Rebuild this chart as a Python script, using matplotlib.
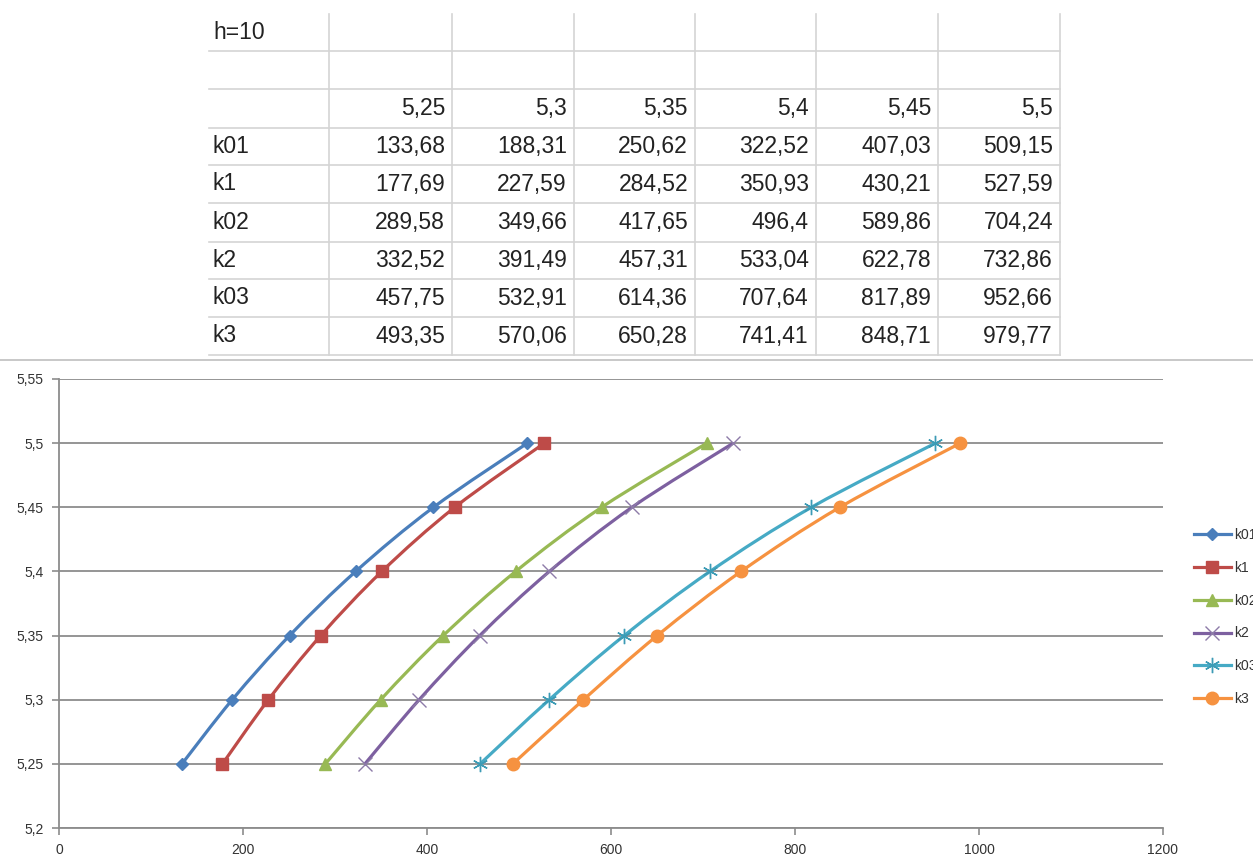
import matplotlib
matplotlib.use("Agg")
import matplotlib.pyplot as plt
from matplotlib.lines import Line2D
from matplotlib.path import Path
from matplotlib.patches import PathPatch
from matplotlib.ticker import FuncFormatter, MultipleLocator

# sheet data: h=10, six speeds against the k columns
h_label = "h=10"
speeds = [5.25, 5.3, 5.35, 5.4, 5.45, 5.5]
series_names = ["k01", "k1", "k02", "k2", "k03", "k3"]
k01 = [133.68, 188.31, 250.62, 322.52, 407.03, 509.15]
k1 = [177.69, 227.59, 284.52, 350.93, 430.21, 527.59]
k02 = [289.58, 349.66, 417.65, 496.4, 589.86, 704.24]
k2 = [332.52, 391.49, 457.31, 533.04, 622.78, 732.86]
k03 = [457.75, 532.91, 614.36, 707.64, 817.89, 952.66]
k3 = [493.35, 570.06, 650.28, 741.41, 848.71, 979.77]
series_values = [k01, k1, k02, k2, k03, k3]

line_colors = ["#4A7EBB", "#BE4B48", "#98B954", "#7D60A0", "#46AAC5", "#F69240"]
marker_styles = [
    dict(marker="D", ms=6.5),
    dict(marker="s", ms=8.5),
    dict(marker="^", ms=9),
    dict(marker="x", ms=10, mew=1.0, mec="#8D7BA8"),
    dict(marker=(6, 2, 0), ms=11, mew=1.0, mec="#3C9BB5"),
    dict(marker="o", ms=9),
]

W, H = 1253, 856
plt.rcParams["font.family"] = ["Liberation Sans", "DejaVu Sans"]


def comma(v):
    return f"{v:g}".replace(".", ",")


def fx(px):
    return px / W


def fy(py):
    return 1 - py / H


def smooth_path(xs, ys):
    # excel-like smoothed line: catmull-rom segments as cubic beziers
    pts = list(zip(xs, ys))
    n = len(pts)
    verts = [pts[0]]
    codes = [Path.MOVETO]
    for i in range(n - 1):
        p0 = pts[i - 1] if i > 0 else pts[i]
        p1 = pts[i]
        p2 = pts[i + 1]
        p3 = pts[i + 2] if i + 2 < n else pts[i + 1]
        c1 = (p1[0] + (p2[0] - p0[0]) / 6, p1[1] + (p2[1] - p0[1]) / 6)
        c2 = (p2[0] - (p3[0] - p1[0]) / 6, p2[1] - (p3[1] - p1[1]) / 6)
        verts += [c1, c2, p2]
        codes += [Path.CURVE4] * 3
    return Path(verts, codes)


fig = plt.figure(figsize=(W / 100, H / 100), dpi=100)

# ---- worksheet table ----
col_edges = [209, 329, 452, 574, 695, 816, 938, 1060]
row_edges = [14, 51, 89, 128, 165, 203, 242, 279, 317, 355]
grid_c = "#D4D4D4"
text_c = "#222222"
for y in row_edges[1:]:
    fig.add_artist(Line2D([fx(col_edges[0]), fx(col_edges[-1])], [fy(y), fy(y)],
                          color=grid_c, lw=1.2))
for x in col_edges[1:]:
    fig.add_artist(Line2D([fx(x), fx(x)], [fy(row_edges[0]), fy(row_edges[-1])],
                          color=grid_c, lw=1.2))

def row_mid(r):
    return fy((row_edges[r] + row_edges[r + 1]) / 2)

fig.text(fx(col_edges[0] + 4), row_mid(0), h_label, ha="left", va="center",
         fontsize=16.5, color=text_c)
for j, s in enumerate(speeds):
    fig.text(fx(col_edges[j + 2] - 7), row_mid(2), comma(s), ha="right",
             va="center", fontsize=16.5, color=text_c)
for i, (name, vals) in enumerate(zip(series_names, series_values)):
    fig.text(fx(col_edges[0] + 4), row_mid(3 + i), name, ha="left",
             va="center", fontsize=16.5, color=text_c)
    for j, v in enumerate(vals):
        fig.text(fx(col_edges[j + 2] - 7), row_mid(3 + i), comma(v),
                 ha="right", va="center", fontsize=16.5, color=text_c)

# border of the chart object
fig.add_artist(Line2D([0, 1], [fy(360), fy(360)], color="#BFBFBF", lw=1.2))

# ---- chart ----
ax = fig.add_axes([fx(59), fy(828), fx(1163 - 59), (828 - 379) / H])
ax.set_xlim(0, 1200)
ax.set_ylim(5.2, 5.55)
ax.xaxis.set_major_locator(MultipleLocator(200))
ax.yaxis.set_major_locator(MultipleLocator(0.05))
ax.yaxis.set_major_formatter(FuncFormatter(lambda v, p: comma(round(v, 2))))
ax.xaxis.set_major_formatter(FuncFormatter(lambda v, p: f"{v:.0f}"))
ax.grid(axis="y", color="#8C8C8C", lw=1.3)
ax.set_axisbelow(True)
for side in ["top", "right"]:
    ax.spines[side].set_visible(False)
ax.spines["left"].set_color("#8C8C8C")
ax.spines["bottom"].set_color("#8C8C8C")
ax.spines["left"].set_linewidth(1.3)
ax.spines["bottom"].set_linewidth(1.3)
ax.tick_params(colors="#8C8C8C", labelcolor="#333333", labelsize=10,
               length=5, width=1.2)
ax.tick_params(axis="y", pad=6)
ax.tick_params(axis="x", pad=6)

handles = []
for name, vals, c, ms in zip(series_names, series_values, line_colors, marker_styles):
    ax.add_patch(PathPatch(smooth_path(vals, speeds), fill=False,
                           edgecolor=c, lw=2.3, zorder=3))
    style = dict(ms)
    style.setdefault("mec", c)
    ax.plot(vals, speeds, linestyle="none", color=c, zorder=4, **style)
    handles.append(Line2D([], [], color=c, lw=2.3, label=name, **style))

ax.legend(handles=handles, loc="center left", frameon=False,
          bbox_to_anchor=(fx(1181), fy(617)), bbox_transform=fig.transFigure,
          fontsize=10, handlelength=2.7, handletextpad=0.2,
          labelspacing=1.35, labelcolor="#333333")

fig.savefig("out.png", dpi=100)
